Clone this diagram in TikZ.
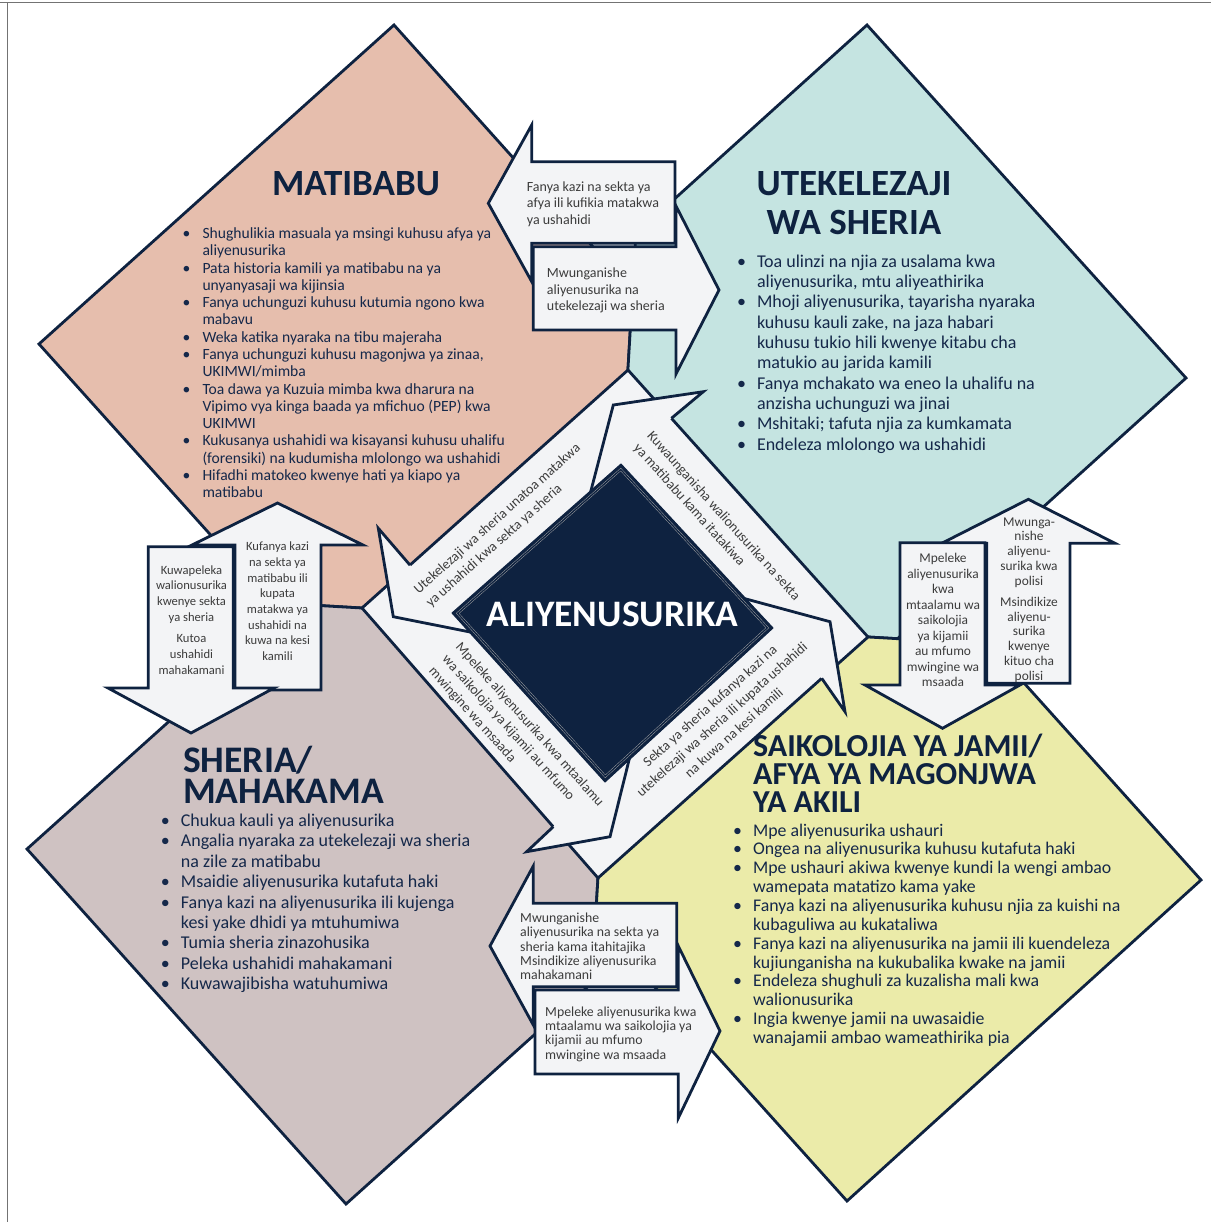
\documentclass[tikz,border=0pt]{standalone}
\usepackage{fontspec}
\setmainfont{Carlito}
\usetikzlibrary{calc}
\definecolor{navy}{HTML}{0E2240}
\definecolor{salmonc}{HTML}{E6BEAD}
\definecolor{tealc}{HTML}{C5E4E1}
\definecolor{mauvec}{HTML}{CFC2C2}
\definecolor{yelc}{HTML}{EBEBA9}
\definecolor{litec}{HTML}{F3F4F6}
\definecolor{graytxt}{HTML}{3C3C3C}
\definecolor{bodytxt}{HTML}{15284A}
\newcommand{\tabL}[1]{\begin{tabular}[t]{@{}l@{}}#1\end{tabular}}
\newcommand{\tabC}[1]{\begin{tabular}[t]{@{}c@{}}#1\end{tabular}}
\newcommand{\mybul}{\makebox[20pt][l]{\textbullet}}
\newcommand{\myind}{\hspace*{20pt}}
\tikzset{
  quad/.style={draw=navy, line width=2.8pt, line join=miter},
  blk/.style={fill=litec, draw=navy, line width=2.8pt, line join=miter},
  hook/.style={draw=navy, line width=2.8pt, line join=miter},
  title/.style={inner sep=0, text=navy, font=\bfseries\fontsize{37}{37}\selectfont},
  listtxt/.style={anchor=base west, inner sep=0, text=bodytxt},
  arrtxt/.style={inner sep=0, text=graytxt},
  bandtxt/.style={inner sep=0, text=graytxt, font=\fontsize{14}{18}\selectfont}
}
\begin{document}
\begin{tikzpicture}[x=1pt,y=-1pt]
\useasboundingbox (0,0) rectangle (1211,1222);
\fill[white] (0,0) rectangle (1211,1222);
\draw[black!55, line width=1.2pt] (0,2.5) -- (1211,2.5);
\draw[black!55, line width=1pt] (7,2.5) -- (7,1222);

% quadrant shapes
\coordinate (C) at (613.1,622.4);
\filldraw[quad, fill=salmonc] (394,25) -- (632.6,291) -- (C) -- (271.6,602.8) -- (39,344) -- cycle;
\filldraw[quad, fill=tealc] (635.9,233.8) -- (867,25) -- (1186,378) -- (897.5,638.7) -- (C) -- cycle;
\filldraw[quad, fill=mauvec] (299.2,604.4) -- (C) -- (591.7,983.2) -- (346,1204) -- (27,849) -- cycle;
\filldraw[quad, fill=yelc] (C) -- (988.9,643.9) -- (1201,880) -- (847,1201) -- (595.4,921) -- cycle;

% central light diamond
\filldraw[quad, fill=litec] (628,370) -- (868,637) -- (598,878) -- (362,608) -- cycle;

% circular arrow hooks
\fill[litec] (588.5,500) -- (613.3,405) -- (703.3,391.7) -- (671.4,418.3) -- cycle;
\draw[hook] (588.5,500) -- (613.3,405) -- (703.3,391.7) -- (671.4,418.3);
\fill[litec] (735,596) -- (830,621.7) -- (845,711.7) -- (821.7,678.3) -- cycle;
\draw[hook] (735,596) -- (830,621.7) -- (845,711.7) -- (821.7,678.3);
\fill[litec] (634,740) -- (610,836.7) -- (526.7,851.7) -- (553.3,826.7) -- cycle;
\draw[hook] (634,740) -- (610,836.7) -- (526.7,851.7) -- (553.3,826.7);
\fill[litec] (470,632) -- (393.3,616.7) -- (378.3,528.3) -- (410,565.1) -- cycle;
\draw[hook] (470,632) -- (393.3,616.7) -- (378.3,528.3) -- (410,565.1);

% navy centre
\coordinate (Cn) at (612.75,621.75);
\filldraw[fill=navy, draw=navy, line width=1pt] (621,464) -- (773,628) -- (605,782) -- (452,613) -- cycle;
\draw[draw=gray!70, line width=0.45pt, double=navy, double distance=1.4pt]
  ($(Cn)!0.965!(621,464)$) -- ($(Cn)!0.965!(773,628)$) -- ($(Cn)!0.965!(605,782)$) -- ($(Cn)!0.965!(452,613)$) -- cycle;
\node[inner sep=0, anchor=base, text=white, font=\bfseries\fontsize{37.4}{37.4}\selectfont] (centre) at (612.5,626.7) {ALIYENUSURIKA};

% band texts
\node[bandtxt, rotate=41.8] (bandUL) at (503.5,526) {\tabL{Utekelezaji wa sheria unatoa matakwa\\ya ushahidi kwa sekta ya sheria}};
\node[bandtxt, rotate=-48] (bandUR) at (716.5,522.5) {\tabL{Kuwaunganisha walionusurika na sekta\\ya matibabu kama itatakiwa}};
\node[bandtxt, rotate=-48] (bandLL) at (516,737) {\tabL{Mpeleke aliyenusurika kwa mtaalamu\\wa saikolojia ya kijamii au mfumo\\mwingine wa msaada}};
\node[bandtxt, rotate=41.8] (bandLR) at (722.5,720) {\tabC{Sekta ya sheria kufanya kazi na\\utekelezaji wa sheria ili kupata ushahidi\\na kuwa na kesi kamili}};

% top block arrows
\filldraw[blk] (675,161.7) -- (531.7,161.7) -- (531.7,125) -- (488.3,203.3) -- (531.7,281.6) -- (531.7,243.3) -- (675,243.3) -- cycle;
\filldraw[blk] (533.3,246.7) -- (676,246.7) -- (676,206) -- (719,290) -- (676,374) -- (676,330) -- (533.3,330) -- cycle;
\node[arrtxt, anchor=base west, font=\fontsize{14}{16.7}\selectfont] (tA) at (526.7,191.3) {\tabL{Fanya kazi na sekta ya\\afya ili kufikia matakwa\\ya ushahidi}};
\node[arrtxt, anchor=base west, font=\fontsize{14}{16.7}\selectfont] (tB) at (546.7,277.3) {\tabL{Mwunganishe\\aliyenusurika na\\utekelezaji wa sheria}};

% left block arrows
\filldraw[blk] (235,690) -- (235,545) -- (192,545) -- (277.5,503) -- (363,545) -- (321,545) -- (321,690) -- cycle;
\filldraw[blk] (148.3,546.7) -- (233.3,546.7) -- (233.3,688) -- (274,688) -- (191,733) -- (108,688) -- (148.3,688) -- cycle;
\node[arrtxt, anchor=base, font=\fontsize{12.6}{15.7}\selectfont] (tC) at (191.5,574) {\tabC{Kuwapeleka\\walionusurika\\kwenye sekta\\ya sheria\\[6pt]Kutoa\\ushahidi\\mahakamani}};
\node[arrtxt, anchor=base, font=\fontsize{12.6}{15.7}\selectfont] (tD) at (277.5,550.6) {\tabC{Kufanya kazi\\na sekta ya\\matibabu ili\\kupata\\matakwa ya\\ushahidi na\\kuwa na kesi\\kamili}};

% right block arrows
\filldraw[blk] (986.7,683.3) -- (986.7,543.3) -- (941.7,543.3) -- (1028.3,499.3) -- (1115,543.3) -- (1070,543.3) -- (1070,683.3) -- cycle;
\filldraw[blk] (900,542.7) -- (985,542.7) -- (985,685) -- (1020,685) -- (942.5,728.3) -- (865,685) -- (900,685) -- cycle;
\node[arrtxt, anchor=base, font=\fontsize{13.4}{15.55}\selectfont] (tE) at (943,562.5) {\tabC{Mpeleke\\aliyenusurika\\kwa\\mtaalamu wa\\saikolojia\\ya kijamii\\au mfumo\\mwingine wa\\msaada}};
\node[arrtxt, anchor=base, font=\fontsize{13.4}{14.85}\selectfont] (tF) at (1029,526) {\tabC{Mwunga-\\nishe\\aliyenu-\\surika kwa\\polisi\\[6pt]Msindikize\\aliyenu-\\surika\\kwenye\\kituo cha\\polisi}};

% bottom block arrows
\filldraw[blk] (676.7,903.3) -- (533.3,903.3) -- (533.3,866) -- (490,946) -- (533.3,1025) -- (533.3,986.7) -- (676.7,986.7) -- cycle;
\filldraw[blk] (535,990) -- (678.3,990) -- (678.3,946) -- (720,1031) -- (678.3,1118) -- (678.3,1074) -- (535,1074) -- cycle;
\node[arrtxt, anchor=base west, font=\fontsize{13.8}{14.4}\selectfont] (tG) at (520,922.3) {\tabL{Mwunganishe\\aliyenusurika na sekta ya\\sheria kama itahitajika\\Msindikize aliyenusurika\\mahakamani}};
\node[arrtxt, anchor=base west, font=\fontsize{13.8}{14.4}\selectfont] (tH) at (545,1016) {\tabL{Mpeleke aliyenusurika kwa\\mtaalamu wa saikolojia ya\\kijamii au mfumo\\mwingine wa msaada}};

% titles
\node[title, anchor=base] (tmat) at (356,196) {MATIBABU};
\node[title, anchor=base] (tute1) at (854,195.5) {UTEKELEZAJI};
\node[title, anchor=base] (tute2) at (854,235) {WA SHERIA};
\node[title, anchor=base west, font=\bfseries\fontsize{37.5}{37.5}\selectfont] (tsh1) at (183,772.6) {SHERIA/};
\node[title, anchor=base west, font=\bfseries\fontsize{37.5}{37.5}\selectfont] (tsh2) at (183,803.5) {MAHAKAMA};
\node[title, anchor=base west, font=\bfseries\fontsize{32}{32}\selectfont] (tsa1) at (753,756.7) {SAIKOLOJIA YA JAMII/};
\node[title, anchor=base west, font=\bfseries\fontsize{32}{32}\selectfont] (tsa2) at (753,784.5) {AFYA YA MAGONJWA};
\node[title, anchor=base west, font=\bfseries\fontsize{32}{32}\selectfont] (tsa3) at (753,812.2) {YA AKILI};

% lists
\node[listtxt, font=\fontsize{15.6}{17.27}\selectfont] (lmat) at (182.3,238.6) {\tabL{%
\mybul Shughulikia masuala ya msingi kuhusu afya ya\\
\myind aliyenusurika\\
\mybul Pata historia kamili ya matibabu na ya\\
\myind unyanyasaji wa kijinsia\\
\mybul Fanya uchunguzi kuhusu kutumia ngono kwa\\
\myind mabavu\\
\mybul Weka katika nyaraka na tibu majeraha\\
\mybul Fanya uchunguzi kuhusu magonjwa ya zinaa,\\
\myind UKIMWI/mimba\\
\mybul Toa dawa ya Kuzuia mimba kwa dharura na\\
\myind Vipimo vya kinga baada ya mfichuo (PEP) kwa\\
\myind UKIMWI\\
\mybul Kukusanya ushahidi wa kisayansi kuhusu uhalifu\\
\myind (forensiki) na kudumisha mlolongo wa ushahidi\\
\mybul Hifadhi matokeo kwenye hati ya kiapo ya\\
\myind matibabu}};

\node[listtxt, font=\fontsize{18}{20.33}\selectfont] (lute) at (736.8,267.2) {\tabL{%
\mybul Toa ulinzi na njia za usalama kwa\\
\myind aliyenusurika, mtu aliyeathirika\\
\mybul Mhoji aliyenusurika, tayarisha nyaraka\\
\myind kuhusu kauli zake, na jaza habari\\
\myind kuhusu tukio hili kwenye kitabu cha\\
\myind matukio au jarida kamili\\
\mybul Fanya mchakato wa eneo la uhalifu na\\
\myind anzisha uchunguzi wa jinai\\
\mybul Mshitaki; tafuta njia za kumkamata\\
\mybul Endeleza mlolongo wa ushahidi}};

\node[listtxt, font=\fontsize{18}{20.4}\selectfont] (lsh) at (160.7,826.4) {\tabL{%
\mybul Chukua kauli ya aliyenusurika\\
\mybul Angalia nyaraka za utekelezaji wa sheria\\
\myind na zile za matibabu\\
\mybul Msaidie aliyenusurika kutafuta haki\\
\mybul Fanya kazi na aliyenusurika ili kujenga\\
\myind kesi yake dhidi ya mtuhumiwa\\
\mybul Tumia sheria zinazohusika\\
\mybul Peleka ushahidi mahakamani\\
\mybul Kuwawajibisha watuhumiwa}};

\node[listtxt, font=\fontsize{17.8}{18.85}\selectfont] (lsa) at (732.9,836.1) {\tabL{%
\mybul Mpe aliyenusurika ushauri\\
\mybul Ongea na aliyenusurika kuhusu kutafuta haki\\
\mybul Mpe ushauri akiwa kwenye kundi la wengi ambao\\
\myind wamepata matatizo kama yake\\
\mybul Fanya kazi na aliyenusurika kuhusu njia za kuishi na\\
\myind kubaguliwa au kukataliwa\\
\mybul Fanya kazi na aliyenusurika na jamii ili kuendeleza\\
\myind kujiunganisha na kukubalika kwake na jamii\\
\mybul Endeleza shughuli za kuzalisha mali kwa\\
\myind walionusurika\\
\mybul Ingia kwenye jamii na uwasaidie\\
\myind wanajamii ambao wameathirika pia}};
\end{tikzpicture}
\end{document}
